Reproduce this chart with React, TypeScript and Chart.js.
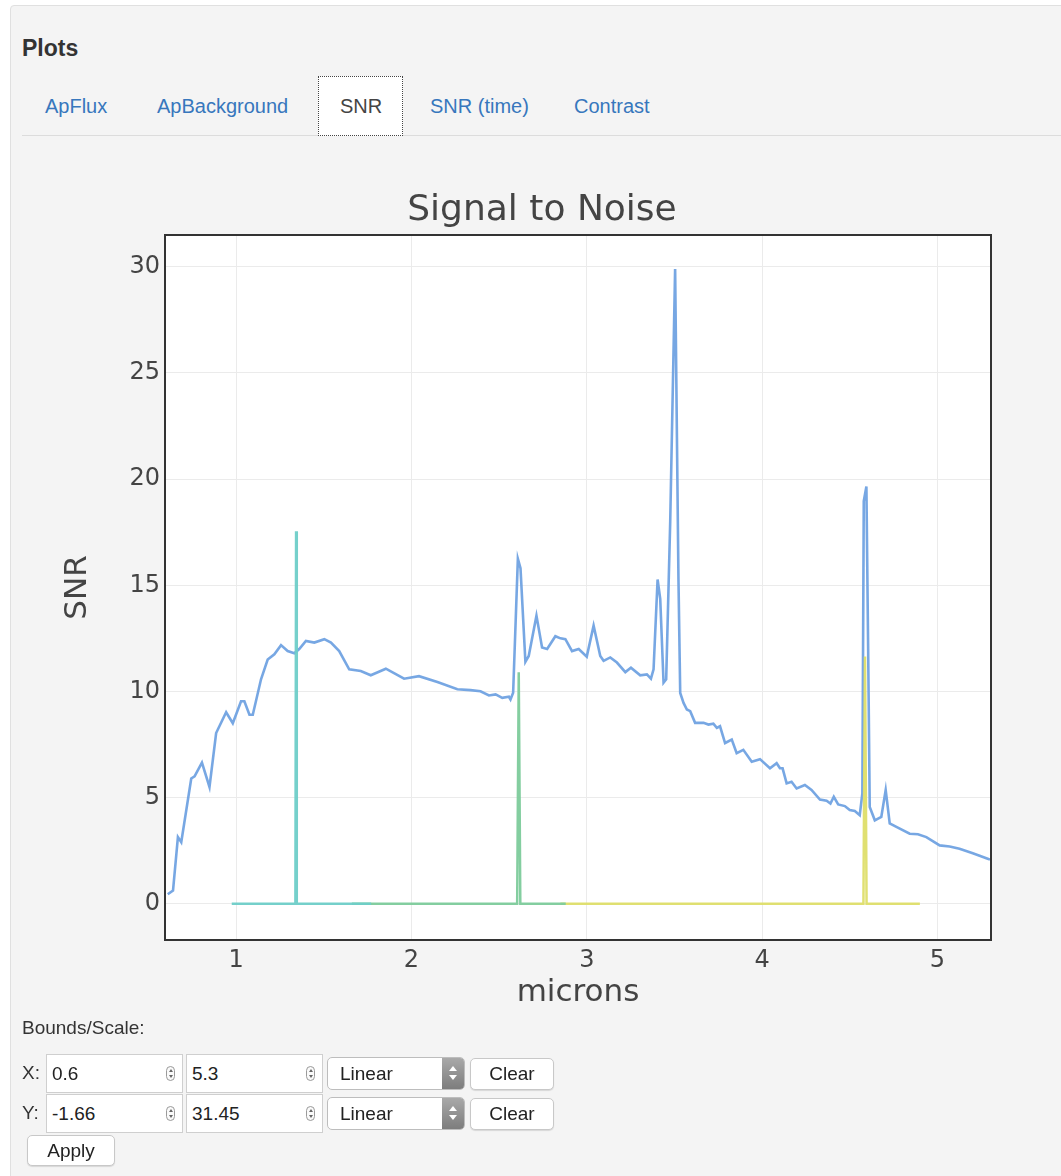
import React, { useEffect, useRef } from "react";
import { Chart, registerables } from "chart.js";

Chart.register(...registerables);

const chartTitle = "Signal to Noise";
const xTitle = "microns";
const yTitle = "SNR";
const xTicks = [1, 2, 3, 4, 5];
const yTicks = [0, 5, 10, 15, 20, 25, 30];

const snrX = [
  0.61, 0.64, 0.668, 0.687, 0.744, 0.763, 0.805, 0.848, 0.886, 0.943, 0.981, 1.028, 1.047, 1.076, 1.095,
  1.142, 1.18, 1.218, 1.256, 1.294, 1.332, 1.36, 1.398, 1.446, 1.503, 1.541, 1.588, 1.645, 1.711, 1.768,
  1.854, 1.958, 2.043, 2.148, 2.262, 2.337, 2.394, 2.442, 2.48, 2.518, 2.556, 2.565, 2.58, 2.607, 2.622,
  2.65, 2.669, 2.713, 2.745, 2.774, 2.821, 2.85, 2.878, 2.916, 2.954, 3.0, 3.039, 3.077, 3.096, 3.134,
  3.172, 3.22, 3.252, 3.305, 3.343, 3.366, 3.381, 3.404, 3.419, 3.438, 3.453, 3.476, 3.504, 3.523, 3.533,
  3.552, 3.571, 3.59, 3.618, 3.666, 3.694, 3.722, 3.742, 3.76, 3.789, 3.827, 3.855, 3.893, 3.941, 3.988,
  4.045, 4.083, 4.102, 4.117, 4.14, 4.168, 4.197, 4.244, 4.282, 4.33, 4.368, 4.39, 4.409, 4.434, 4.472,
  4.5, 4.529, 4.557, 4.572, 4.58, 4.595, 4.605, 4.614, 4.643, 4.68, 4.705, 4.728, 4.766, 4.842, 4.889,
  4.937, 5.013, 5.07, 5.126, 5.202, 5.287, 5.3,
];
const snrY = [
  0.45, 0.62, 3.14, 2.9, 5.9, 6.0, 6.65, 5.5, 8.04, 9.02, 8.5, 9.54, 9.54, 8.9, 8.9,
  10.57, 11.5, 11.75, 12.18, 11.9, 11.8, 12.0, 12.38, 12.3, 12.46, 12.3, 11.9, 11.04, 10.96, 10.76,
  11.07, 10.6, 10.72, 10.44, 10.1, 10.06, 10.01, 9.81, 9.86, 9.7, 9.75, 9.62, 9.94, 16.25, 15.8,
  11.4, 11.67, 13.57, 12.07, 12.0, 12.6, 12.5, 12.46, 11.9, 12.0, 11.64, 13.1, 11.67, 11.44, 11.6,
  11.36, 10.91, 11.12, 10.76, 10.8, 10.6, 11.04, 15.27, 14.36, 10.41, 10.57, 18.0, 29.9, 15.3, 9.93,
  9.46, 9.15, 9.07, 8.52, 8.52, 8.44, 8.48, 8.28, 8.36, 7.57, 7.73, 7.09, 7.25, 6.69, 6.81,
  6.38, 6.62, 6.38, 6.38, 5.67, 5.75, 5.43, 5.59, 5.36, 4.91, 4.85, 4.72, 5.04, 4.68, 4.6,
  4.41, 4.37, 4.17, 5.2, 18.96, 19.65, 12.0, 4.56, 3.93, 4.09, 5.36, 3.78, 3.62, 3.3, 3.27,
  3.14, 2.75, 2.7, 2.59, 2.38, 2.12, 2.08,
];

const tealX = [0.975, 1.338, 1.342, 1.346, 1.77];
const tealY = [0, 0, 17.55, 0, 0];
const greenX = [1.66, 2.603, 2.612, 2.621, 2.88];
const greenY = [0, 0, 10.9, 0, 0];
const yellowX = [2.85, 4.578, 4.587, 4.596, 4.9];
const yellowY = [0, 0, 11.65, 0, 0];

const toPts = (xs: number[], ys: number[]) => xs.map((x, i) => ({ x, y: ys[i] }));

const SANS = '"Liberation Sans", Arial, Helvetica, sans-serif';
const PLOTFONT = '"DejaVu Sans", Verdana, sans-serif';

function Spinner({ left, top }: { left: number; top: number }) {
  return (
    <div
      style={{
        position: "absolute",
        left,
        top,
        width: 9,
        height: 15,
        border: "1px solid #9a9a9a",
        borderRadius: 5,
        boxSizing: "border-box",
        background: "#fafafa",
      }}
    >
      <div style={{ position: "absolute", left: 1.5, top: 2, width: 0, height: 0, borderLeft: "2px solid transparent", borderRight: "2px solid transparent", borderBottom: "3px solid #666" }} />
      <div style={{ position: "absolute", left: 1.5, top: 8, width: 0, height: 0, borderLeft: "2px solid transparent", borderRight: "2px solid transparent", borderTop: "3px solid #666" }} />
    </div>
  );
}

function NumInput({ left, top, value }: { left: number; top: number; value: string }) {
  return (
    <>
      <div
        style={{
          position: "absolute",
          left,
          top,
          width: 137,
          height: 39,
          boxSizing: "border-box",
          background: "#fff",
          border: "1px solid #cfcfcf",
          fontFamily: SANS,
          fontSize: 19,
          lineHeight: "37px",
          paddingLeft: 5,
          color: "#222",
        }}
      >
        {value}
      </div>
      <Spinner left={left + 120} top={top + 12} />
    </>
  );
}

function SelectBox({ left, top }: { left: number; top: number }) {
  return (
    <div
      style={{
        position: "absolute",
        left,
        top,
        width: 138,
        height: 33,
        boxSizing: "border-box",
        background: "#fff",
        border: "1px solid #bdbdbd",
        borderRadius: 5,
        fontFamily: SANS,
        fontSize: 19,
        lineHeight: "31px",
        paddingLeft: 12,
        color: "#222",
        overflow: "hidden",
      }}
    >
      Linear
      <div
        style={{
          position: "absolute",
          right: 0,
          top: 0,
          width: 22,
          height: 31,
          background: "linear-gradient(#a9a9a9, #7d7d7d)",
        }}
      >
        <div style={{ position: "absolute", left: 7, top: 8, width: 0, height: 0, borderLeft: "4px solid transparent", borderRight: "4px solid transparent", borderBottom: "5px solid #fff" }} />
        <div style={{ position: "absolute", left: 7, top: 17, width: 0, height: 0, borderLeft: "4px solid transparent", borderRight: "4px solid transparent", borderTop: "5px solid #fff" }} />
      </div>
    </div>
  );
}

function Btn({ left, top, width, height, text }: { left: number; top: number; width: number; height: number; text: string }) {
  return (
    <div
      style={{
        position: "absolute",
        left,
        top,
        width,
        height,
        boxSizing: "border-box",
        background: "#fff",
        border: "1px solid #c8c8c8",
        borderRadius: 5,
        boxShadow: "0 1px 1px rgba(0,0,0,0.12)",
        fontFamily: SANS,
        fontSize: 19,
        lineHeight: `${height - 2}px`,
        textAlign: "center",
        color: "#222",
      }}
    >
      {text}
    </div>
  );
}

const plotBgPlugin = {
  id: "plotBg",
  beforeDraw(chart: any) {
    const { ctx, chartArea } = chart;
    ctx.save();
    ctx.fillStyle = "#ffffff";
    ctx.fillRect(chartArea.left, chartArea.top, chartArea.right - chartArea.left, chartArea.bottom - chartArea.top);
    ctx.restore();
  },
  afterDraw(chart: any) {
    const { ctx, chartArea } = chart;
    ctx.save();
    ctx.strokeStyle = "#333";
    ctx.lineWidth = 2;
    ctx.strokeRect(chartArea.left - 1, chartArea.top - 1, chartArea.right - chartArea.left + 2, chartArea.bottom - chartArea.top + 2);
    // chart title, centred where the reference places it
    ctx.fillStyle = "#444";
    ctx.font = `36px ${PLOTFONT}`;
    ctx.textAlign = "center";
    ctx.textBaseline = "middle";
    ctx.fillText(chartTitle, 520, 61);
    ctx.restore();
  },
};

function SnrChart() {
  const ref = useRef<HTMLCanvasElement | null>(null);
  useEffect(() => {
    if (!ref.current) return;
    const chart = new Chart(ref.current, {
      type: "line",
      data: {
        datasets: [
          { label: "f1", data: toPts(tealX, tealY), borderColor: "rgba(110,205,200,0.95)", borderWidth: 2.5, pointRadius: 0, tension: 0 },
          { label: "f2", data: toPts(greenX, greenY), borderColor: "rgba(125,203,155,0.95)", borderWidth: 2.5, pointRadius: 0, tension: 0 },
          { label: "f3", data: toPts(yellowX, yellowY), borderColor: "rgba(222,222,105,0.95)", borderWidth: 2.5, pointRadius: 0, tension: 0 },
          { label: "SNR", data: toPts(snrX, snrY), borderColor: "rgba(112,162,226,0.95)", borderWidth: 2.6, pointRadius: 0, tension: 0 },
        ],
      },
      options: {
        animation: false,
        responsive: false,
        layout: { padding: { left: 0, right: 57, top: 86, bottom: 0 } },
        plugins: {
          legend: { display: false },
          tooltip: { enabled: false },
          title: { display: false },
        },
        scales: {
          x: {
            type: "linear",
            min: 0.6,
            max: 5.3,
            afterBuildTicks: (axis: any) => {
              axis.ticks = xTicks.map((v) => ({ value: v }));
            },
            afterFit: (scale: any) => {
              scale.height = 81;
            },
            grid: { color: "#ebebeb", lineWidth: 1, drawTicks: false },
            border: { display: false },
            ticks: {
              color: "#444",
              font: { family: PLOTFONT, size: 24 },
              padding: 7,
              maxRotation: 0,
              autoSkip: false,
            },
            title: {
              display: true,
              text: xTitle,
              color: "#444",
              font: { family: PLOTFONT, size: 31, lineHeight: 1.2 },
              padding: { top: 0, bottom: 8 },
            },
          },
          y: {
            type: "linear",
            min: -1.66,
            max: 31.45,
            afterBuildTicks: (axis: any) => {
              axis.ticks = yTicks.map((v) => ({ value: v }));
            },
            afterFit: (scale: any) => {
              scale.width = 144;
            },
            grid: { color: "#ebebeb", lineWidth: 1, drawTicks: false },
            border: { display: false },
            ticks: {
              color: "#444",
              font: { family: PLOTFONT, size: 24 },
              padding: 6,
            },
            title: {
              display: true,
              text: yTitle,
              color: "#444",
              font: { family: PLOTFONT, size: 31, lineHeight: 1.2 },
              padding: { top: 37, bottom: 0 },
            },
          },
        },
      },
      plugins: [plotBgPlugin],
    } as any);
    return () => chart.destroy();
  }, []);
  return (
    <canvas
      ref={ref}
      width={1025}
      height={870}
      style={{ position: "absolute", left: 22, top: 150, width: 1025, height: 870 }}
    />
  );
}

const tabs = [
  { text: "ApFlux", left: 45 },
  { text: "ApBackground", left: 157 },
  { text: "SNR", left: 340, active: true },
  { text: "SNR (time)", left: 430 },
  { text: "Contrast", left: 574 },
];

export default function App() {
  return (
    <div style={{ position: "absolute", left: 0, top: 0, width: 1061, height: 1176, background: "#fff", overflow: "hidden" }}>
      <div
        style={{
          position: "absolute",
          left: 10,
          top: 5,
          width: 1070,
          height: 1200,
          background: "#f4f4f4",
          border: "1px solid #e0e0e0",
          borderRadius: 4,
          boxSizing: "border-box",
        }}
      />
      <div style={{ position: "absolute", left: 22, top: 34, fontFamily: SANS, fontWeight: "bold", fontSize: 23, lineHeight: "28px", color: "#333" }}>
        Plots
      </div>
      <div style={{ position: "absolute", left: 22, top: 135, width: 1039, height: 1, background: "#dcdcdc" }} />
      <div
        style={{
          position: "absolute",
          left: 318,
          top: 76,
          width: 85,
          height: 60,
          boxSizing: "border-box",
          background: "#fff",
          border: "1px dotted #444",
        }}
      />
      {tabs.map((t) => (
        <div
          key={t.text}
          style={{
            position: "absolute",
            left: t.left,
            top: 94,
            fontFamily: SANS,
            fontSize: 20,
            lineHeight: "24px",
            color: t.active ? "#444" : "#3777bd",
            whiteSpace: "nowrap",
          }}
        >
          {t.text}
        </div>
      ))}
      <SnrChart />
      <div style={{ position: "absolute", left: 22, top: 1017, fontFamily: SANS, fontSize: 19, lineHeight: "22px", color: "#333" }}>
        Bounds/Scale:
      </div>
      <div style={{ position: "absolute", left: 22, top: 1062, fontFamily: SANS, fontSize: 19, lineHeight: "22px", color: "#333" }}>X:</div>
      <div style={{ position: "absolute", left: 22, top: 1102, fontFamily: SANS, fontSize: 19, lineHeight: "22px", color: "#333" }}>Y:</div>
      <NumInput left={46} top={1054} value="0.6" />
      <NumInput left={186} top={1054} value="5.3" />
      <SelectBox left={327} top={1057} />
      <Btn left={470} top={1058} width={84} height={32} text="Clear" />
      <NumInput left={46} top={1094} value="-1.66" />
      <NumInput left={186} top={1094} value="31.45" />
      <SelectBox left={327} top={1097} />
      <Btn left={470} top={1098} width={84} height={32} text="Clear" />
      <Btn left={27} top={1135} width={88} height={31} text="Apply" />
    </div>
  );
}
